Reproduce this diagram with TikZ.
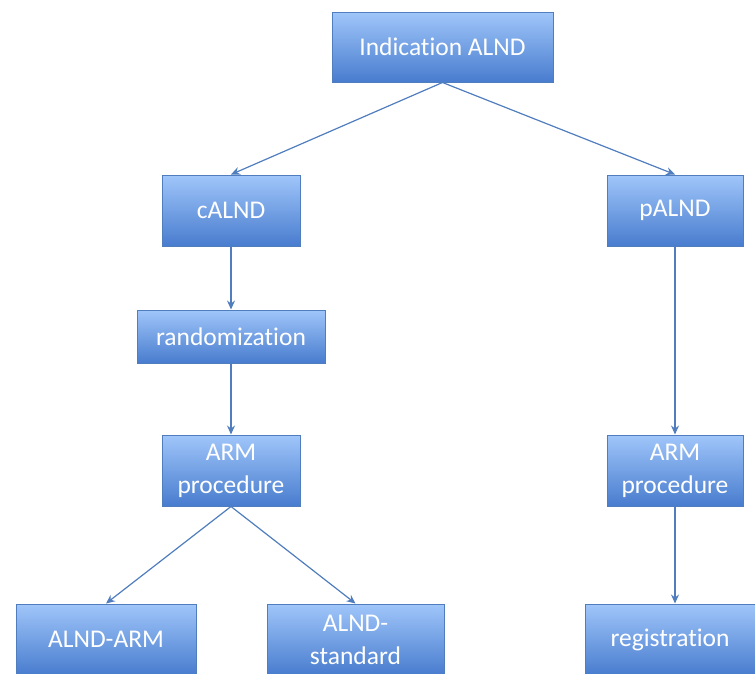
\documentclass[tikz,border=0pt]{standalone}
\usepackage{fontspec}
\setmainfont[Ligatures={NoCommon,NoDiscretionary,NoRare}]{Carlito}
\usetikzlibrary{arrows.meta}
\definecolor{boxtop}{RGB}{160,198,250}
\definecolor{boxbot}{RGB}{72,124,206}
\definecolor{boxline}{RGB}{79,125,190}
\definecolor{arrowc}{RGB}{79,125,190}
\tikzset{
  box/.style={draw=boxline, line width=1pt, top color=boxtop, bottom color=boxbot,
    text=white, align=center, inner sep=0pt,
    font=\fontsize{25.5}{33}\selectfont},
  link/.style={draw=arrowc, line width=1.2pt, -{Stealth[length=9pt,width=8pt,inset=3pt]}}
}
\begin{document}
\begin{tikzpicture}[x=1pt,y=-1pt]
\useasboundingbox (0,0) rectangle (755,673);
\clip (0,0) rectangle (755,673);
\node[box, minimum width=221pt, minimum height=70pt] (ind) at (442.5,47) {Indica{}tion ALND};
\node[box, minimum width=138pt, minimum height=71pt] (cal) at (231,210.5) {cALND};
\node[box, minimum width=136pt, minimum height=71pt] (pal) at (675,210.5) {pALND};
\node[box, minimum width=188pt, minimum height=53pt] (rand) at (231,336.5) {randomiza{}tion};
\node[box, minimum width=138pt, minimum height=71pt] (arml) at (231,470.5) {ARM\\procedure};
\node[box, minimum width=136pt, minimum height=71pt] (armr) at (675,470.5) {ARM\\procedure};
\node[box, minimum width=180pt, minimum height=71pt] (aa) at (106,639.5) {ALND-ARM};
\node[box, minimum width=177pt, minimum height=71pt] (as) at (355.5,639.5) {ALND-\\standard};
\node[box, minimum width=170pt, minimum height=71pt] (reg) at (670,639.5) {registra{}tion};
\draw[link] (ind.south) -- (cal.north);
\draw[link] (ind.south) -- (pal.north);
\draw[link] (cal.south) -- (rand.north);
\draw[link] (rand.south) -- (arml.north);
\draw[link] (pal.south) -- (armr.north);
\draw[link] (arml.south) -- (aa.north);
\draw[link] (arml.south) -- (as.north);
\draw[link] (armr.south) -- (armr.south |- reg.north);
\end{tikzpicture}
\end{document}
